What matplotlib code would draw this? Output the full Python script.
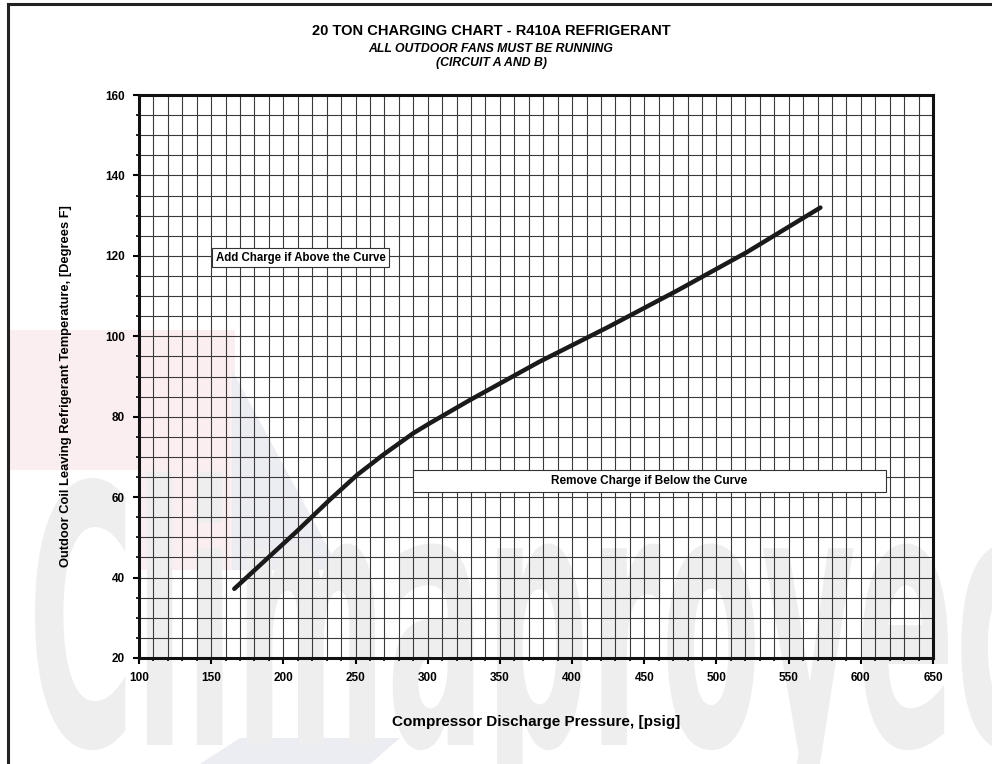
import numpy as np
import matplotlib
matplotlib.use('Agg')
import matplotlib.pyplot as plt
from matplotlib.patches import Rectangle, PathPatch, Polygon
from matplotlib.textpath import TextPath
from matplotlib.font_manager import FontProperties
from matplotlib.transforms import Affine2D
from matplotlib.ticker import MultipleLocator

plt.rcParams['font.family'] = ['Liberation Sans', 'DejaVu Sans']

# charging curve
pressure = [166, 209, 232, 251, 269, 290, 302, 329, 377, 425, 473, 521, 572]
temperature = [37.2, 51.4, 59.3, 65.5, 70.5, 75.9, 78.5, 84.1, 93.6, 102.3, 111.4, 120.9, 132]

x_ticks = [100, 150, 200, 250, 300, 350, 400, 450, 500, 550, 600, 650]
y_ticks = [20, 40, 60, 80, 100, 120, 140, 160]

title = '20 TON CHARGING CHART - R410A REFRIGERANT'
subtitle = 'ALL OUTDOOR FANS MUST BE RUNNING\n(CIRCUIT A AND B)'
add_note = 'Add Charge if Above the Curve'
remove_note = 'Remove Charge if Below the Curve'

W, H = 992, 764
fig = plt.figure(figsize=(W / 100, H / 100), dpi=100)
fig.patch.set_facecolor('white')


def px(x, y):
    # figure pixel (from top-left) -> figure fraction
    return (x / W, 1 - y / H)


# faint watermark behind everything
fig.patches.append(Polygon([px(8, 330), px(235, 330), px(235, 570), px(140, 570), px(140, 470),
                            px(8, 470)], closed=True, transform=fig.transFigure,
                           facecolor='#fbeef0', edgecolor='none', zorder=-6))
fig.patches.append(Polygon([px(232, 370), px(340, 570), px(232, 570)], closed=True,
                           transform=fig.transFigure, facecolor='#ececf3',
                           edgecolor='none', zorder=-6))
fig.patches.append(Polygon([px(200, 764), px(240, 738), px(400, 738), px(370, 764)], closed=True,
                           transform=fig.transFigure, facecolor='#ececf3',
                           edgecolor='none', zorder=-6))
fp = FontProperties(family='DejaVu Sans', weight='bold')
tp = TextPath((0, 0), 'Climaproyec', prop=fp)
bb = tp.get_extents()
cap = TextPath((0, 0), 'C', prop=fp).get_extents()
x0, x1 = 35 / W, 1.04
base, top = 1 - 745 / H, 1 - 478 / H
sy = (top - base) / cap.y1
tr = Affine2D().translate(-bb.x0, 0).scale((x1 - x0) / bb.width, sy).translate(x0, base)
fig.patches.append(PathPatch(tr.transform_path(tp), transform=fig.transFigure,
                             facecolor='#eeeeee', edgecolor='none', zorder=-5))

# page frame (left and top)
fig.add_artist(plt.Line2D([8 / W, 8 / W], [0, 1 - 4 / H], color='#222222', lw=2.2,
                          transform=fig.transFigure))
fig.add_artist(plt.Line2D([8 / W, 1], [1 - 4 / H, 1 - 4 / H], color='#222222', lw=2.2,
                          transform=fig.transFigure))

ax = fig.add_axes([139 / W, 1 - 658 / H, 794 / W, 563 / H])
ax.patch.set_alpha(0)

ax.set_xlim(100, 650)
ax.set_ylim(20, 160)
ax.set_xticks(x_ticks)
ax.set_yticks(y_ticks)
ax.xaxis.set_minor_locator(MultipleLocator(10))
ax.yaxis.set_minor_locator(MultipleLocator(5))
ax.grid(which='both', color='#3a3a3a', lw=0.8)
ax.set_axisbelow(True)
ax.tick_params(which='major', direction='out', length=4, width=1.5, pad=6,
               labelsize=8.5)
ax.tick_params(which='minor', direction='out', length=2.5, width=1.2)
for lab in ax.get_xticklabels() + ax.get_yticklabels():
    lab.set_fontweight('bold')
for sp in ax.spines.values():
    sp.set_linewidth(2.2)
    sp.set_color('#111111')

ax.plot(pressure, temperature, color='#1a1a1a', lw=3.2, solid_capstyle='round',
        solid_joinstyle='round', zorder=5)

ax.text(153, 119.5, add_note, fontsize=8.3, fontweight='bold', va='center', ha='left', zorder=6,
        bbox=dict(boxstyle='square,pad=0.3', facecolor='white', edgecolor='#333333', lw=0.8))
ax.add_patch(Rectangle((290, 61.3), 327.5, 5.5, facecolor='white', edgecolor='#333333',
                       lw=0.8, zorder=6))
ax.text(453.7, 64.05, remove_note, fontsize=8.5, fontweight='bold', va='center', ha='center',
        zorder=7)

ax.set_xlabel('Compressor Discharge Pressure, [psig]', fontsize=11, fontweight='bold')
ax.xaxis.label.set_va('center')
ax.set_ylabel('Outdoor Coil Leaving Refrigerant Temperature, [Degrees F]', fontsize=9.3,
              fontweight='bold')
ax.yaxis.label.set_va('center')

fig.text(491 / W, 1 - 31 / H, title, ha='center', va='center', fontsize=10.5,
         fontweight='bold')
fig.text(491 / W, 1 - 56 / H, subtitle, ha='center', va='center', fontsize=8.8,
         fontweight='bold', style='italic', linespacing=1.3)

# label positions in figure pixels
ax.xaxis.set_label_coords(536 / W, 1 - 722 / H, transform=fig.transFigure)
ax.yaxis.set_label_coords(66 / W, 1 - 386 / H, transform=fig.transFigure)

fig.savefig('out.png', dpi=100)
